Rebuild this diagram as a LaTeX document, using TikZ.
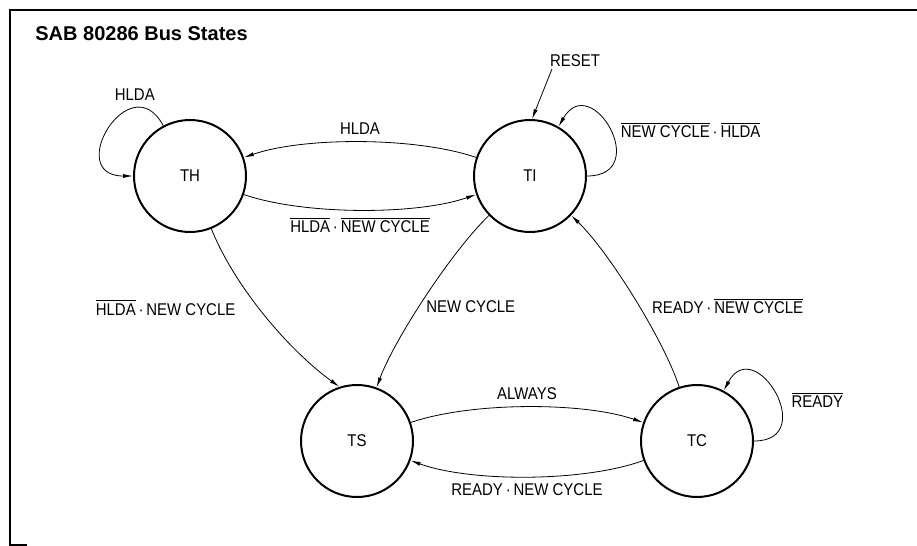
\documentclass[tikz,border=0pt]{standalone}
\usepackage{fontspec}
\setmainfont{Liberation Sans}
\newfontfamily\lblfont[FakeStretch=0.88]{Liberation Sans}
\usepackage{tikz}
\usetikzlibrary{automata,arrows.meta,positioning}

\newcommand{\notsig}[1]{$\overline{\mbox{#1}}$}

\begin{document}
\begin{tikzpicture}[->, >={Latex[length=5pt,width=2pt]}, x=0.5pt, y=0.5pt, node distance=170pt,
	font=\lblfont\fontsize{8.5}{10}\selectfont, every edge/.style={draw, line width=0.4pt}]
	\tikzstyle{every state}=[fill=white,draw=black,line width=1pt,minimum size=56pt,inner sep=0pt]
	\useasboundingbox (0,0) rectangle (917,-546);
	\draw[-, line width=0.7pt] (917,-10) -- (10,-10) -- (10,-545) -- (27,-545);
	\node[anchor=base west, inner sep=0pt, font=\bfseries\fontsize{10}{12}\selectfont] (title) at (35,-40) {SAB 80286 Bus States};

	\node[state]    (TH) at (190,-176)  {TH};
	\node[state]    (TI) [right of=TH]  {TI};
	\node[state]    (TS) at (357,-441)  {TS};
	\node[state]    (TC) [right of=TS]  {TC};
	\node           (reset) at (575,-61) {RESET};
	\coordinate     (rst) at (552,-69);

	\path
	(TH) edge[out=118,in=180,min distance=35pt] node[above,pos=.25]{HLDA} (TH)
	     edge[bend right=19,looseness=.7,below] node{\notsig{HLDA}\,·\,\notsig{NEW CYCLE}} (TI)
	     edge[out=-68,in=144,looseness=.79] node[left=8pt,pos=.45]{\notsig{HLDA}\,·\,NEW CYCLE} (TS.108)
	(TI) edge[bend right=19,looseness=.7,above] node{HLDA} (TH)
	     edge[out=0,in=60,min distance=33pt] node[right=2pt]{\notsig{NEW CYCLE}\,·\,\notsig{HLDA}} (TI)
	     edge[bend right=13,looseness=.64] node[right,pos=.55]{NEW CYCLE} (TS)
	(rst) edge (TI.88)
	(TS) edge[bend left=19,looseness=.7,above] node{ALWAYS} (TC)
	(TC) edge[bend left=20,looseness=.7,below] node{READY\,·\,NEW CYCLE} (TS)
	     edge[bend right=14,looseness=.64] node[right=3pt,pos=.45]{READY\,·\,\notsig{NEW CYCLE}} (TI)
	     edge[out=0,in=62,min distance=33pt] node[right=3pt,pos=.45]{\notsig{READY}} (TC);
\end{tikzpicture}
\end{document}
